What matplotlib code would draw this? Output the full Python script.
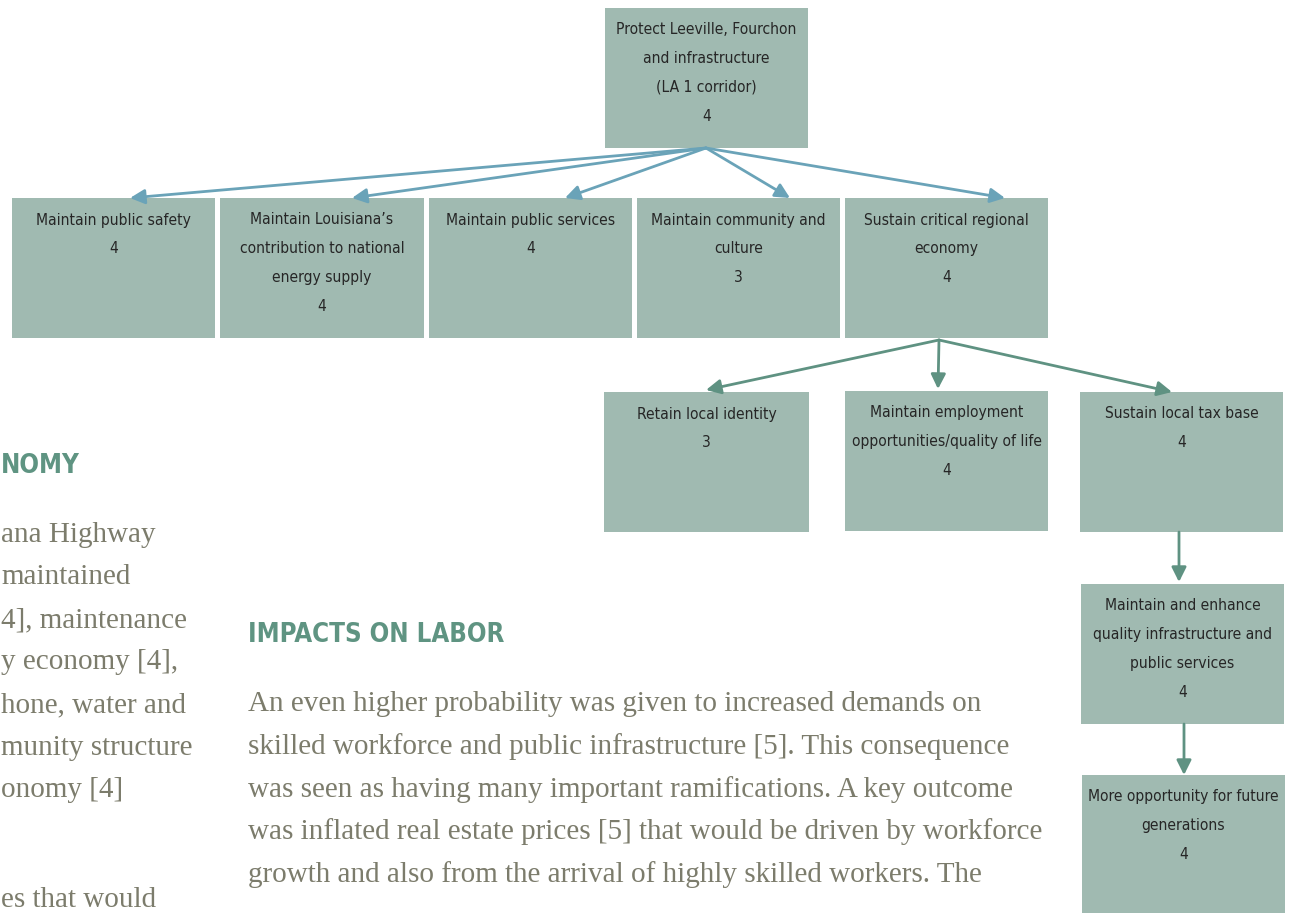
import matplotlib
matplotlib.use('Agg')
import matplotlib.pyplot as plt
from matplotlib.patches import Rectangle

# node labels (score on the last line)
top_label = "Protect Leeville, Fourchon\nand infrastructure\n(LA 1 corridor)\n4"
level1_labels = [
    "Maintain public safety\n4",
    "Maintain Louisiana\u2019s\ncontribution to national\nenergy supply\n4",
    "Maintain public services\n4",
    "Maintain community and\nculture\n3",
    "Sustain critical regional\neconomy\n4",
]
level2_labels = [
    "Retain local identity\n3",
    "Maintain employment\nopportunities/quality of life\n4",
    "Sustain local tax base\n4",
]
chain_labels = [
    "Maintain and enhance\nquality infrastructure and\npublic services\n4",
    "More opportunity for future\ngenerations\n4",
]

left_heading = "NOMY"
left_lines = ["ana Highway", "maintained", "4], maintenance", "y economy [4],",
              "hone, water and", "munity structure", "onomy [4]", "es that would"]
labor_heading = "IMPACTS ON LABOR"
labor_lines = [
    "An even higher probability was given to increased demands on",
    "skilled workforce and public infrastructure [5]. This consequence",
    "was seen as having many important ramifications. A key outcome",
    "was inflated real estate prices [5] that would be driven by workforce",
    "growth and also from the arrival of highly skilled workers. The",
]

# layout in pixels (x0, y0, w, h)
top_box = (605, 8, 203, 140)
level1_boxes = [(12, 198, 203, 140), (220, 198, 204, 140), (429, 198, 203, 140),
                (637, 198, 203, 140), (845, 198, 203, 140)]
level2_boxes = [(604, 392, 205, 140), (845, 391, 203, 140), (1080, 392, 203, 140)]
chain_boxes = [(1081, 584, 203, 140), (1082, 775, 203, 140)]
left_rows = [535, 577, 620, 662, 705, 748, 790, 900]

BOX = '#a0bab1'
BLUE = '#6aa3b8'
GREEN = '#5f9282'
TXT = '#262626'
BODY = '#7c7c6c'
HEAD = '#5f9482'

fig = plt.figure(figsize=(12.91, 9.13), dpi=100)
ax = fig.add_axes([0, 0, 1, 1])
ax.set_xlim(0, 1291)
ax.set_ylim(913, 0)
ax.axis('off')


def draw_box(box, label):
    x0, y0, w, h = box
    ax.add_patch(Rectangle((x0, y0), w, h, facecolor=BOX, edgecolor='none'))
    for i, line in enumerate(label.split('\n')):
        ax.text(x0 + w / 2, y0 + 22 + i * 28.7, line, ha='center', va='center',
                fontsize=11.2, color=TXT, family='DejaVu Sans',
                fontstretch='condensed')


def arrow(p0, p1, color):
    ax.annotate('', xy=p1, xytext=p0,
                arrowprops=dict(arrowstyle='-|>', color=color, lw=2,
                                mutation_scale=22, shrinkA=0, shrinkB=0))


draw_box(top_box, top_label)
for b, lab in zip(level1_boxes, level1_labels):
    draw_box(b, lab)
for b, lab in zip(level2_boxes, level2_labels):
    draw_box(b, lab)
for b, lab in zip(chain_boxes, chain_labels):
    draw_box(b, lab)

# top -> level 1
src = (706, 148)
for x in [130, 352, 565, 790, 1005]:
    arrow(src, (x, 198), BLUE)

# economy -> level 2
src2 = (939, 340)
for x, y in [(706, 390), (938, 389), (1172, 392)]:
    arrow(src2, (x, y), GREEN)

arrow((1179, 532), (1179, 582), GREEN)
arrow((1184, 724), (1184, 775), GREEN)

# surrounding page text
ax.text(1, 466, left_heading, ha='left', va='center', fontsize=18.5,
        color=HEAD, family='DejaVu Sans', fontstretch='condensed', weight='bold')
for line, y in zip(left_lines, left_rows):
    ax.text(1, y, line, ha='left', va='center', fontsize=21,
            color=BODY, family='Liberation Serif')

ax.text(248, 635, labor_heading, ha='left', va='center', fontsize=18.5,
        color=HEAD, family='DejaVu Sans', fontstretch='condensed', weight='bold')
for i, line in enumerate(labor_lines):
    ax.text(248, 704 + i * 42.6, line, ha='left', va='center', fontsize=21,
            color=BODY, family='Liberation Serif')

fig.savefig('out.png', dpi=100)
